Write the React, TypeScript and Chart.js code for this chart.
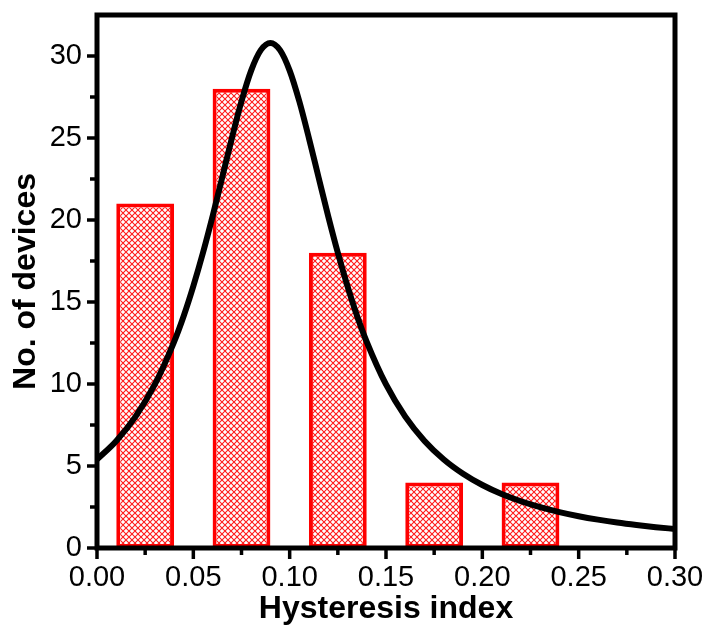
import React, { useEffect, useRef } from 'react';
import { Chart, registerables } from 'chart.js';

Chart.register(...registerables);

// Histogram bins (hysteresis index) and device counts
const binCenters = [0.025, 0.075, 0.125, 0.175, 0.225];
const binCounts = [21, 28, 18, 4, 4];

// Fitted curve, points
const fitX = [0.0, 0.01, 0.02, 0.03, 0.04, 0.045, 0.05, 0.055, 0.06, 0.065, 0.07, 0.075, 0.08, 0.085, 0.09, 0.095, 0.1, 0.105, 0.11, 0.115, 0.12, 0.125, 0.13, 0.135, 0.14, 0.15, 0.16, 0.17, 0.18, 0.19, 0.2, 0.21, 0.22, 0.23, 0.24, 0.25, 0.26, 0.27, 0.28, 0.29, 0.3];
const fitY = [5.4, 6.53, 8.01, 9.97, 12.57, 14.15, 15.97, 18.0, 20.23, 22.6, 24.99, 27.24, 29.11, 30.36, 30.8, 30.36, 29.11, 27.24, 24.99, 22.6, 20.23, 18.0, 15.97, 14.15, 12.57, 9.97, 8.01, 6.53, 5.4, 4.53, 3.84, 3.29, 2.85, 2.49, 2.19, 1.94, 1.73, 1.55, 1.4, 1.27, 1.16];

// Axis ticks
const xTicks = [0, 0.05, 0.1, 0.15, 0.2, 0.25, 0.3];
const xMinorTicks = [0.025, 0.075, 0.125, 0.175, 0.225, 0.275];
const yTicks = [0, 5, 10, 15, 20, 25, 30];
const yMinorTicks = [2.5, 7.5, 12.5, 17.5, 22.5, 27.5];

const X_MIN = 0;
const X_MAX = 0.3;
const Y_MIN = 0;
const Y_MAX = 32.5;

const FONT = '"Liberation Sans", Arial, sans-serif';

function makeHatch(): CanvasPattern | string {
  const s = 6;
  const c = document.createElement('canvas');
  c.width = s;
  c.height = s;
  const g = c.getContext('2d');
  if (!g) return 'rgba(255,0,0,0.4)';
  g.fillStyle = '#ffffff';
  g.fillRect(0, 0, s, s);
  g.strokeStyle = 'rgba(255,0,0,0.9)';
  g.lineWidth = 1.1;
  g.beginPath();
  g.moveTo(0, 0);
  g.lineTo(s, s);
  g.moveTo(s, 0);
  g.lineTo(0, s);
  g.stroke();
  return g.createPattern(c, 'repeat') || 'rgba(255,0,0,0.4)';
}

const framePlugin = {
  id: 'frameTicks',
  afterDatasetsDraw(chart: any) {
    const { ctx, chartArea: a, scales } = chart;
    ctx.save();
    ctx.strokeStyle = '#000';
    ctx.lineCap = 'butt';
    ctx.lineWidth = 3.5;
    const seg = (x1: number, y1: number, x2: number, y2: number) => {
      ctx.beginPath();
      ctx.moveTo(x1, y1);
      ctx.lineTo(x2, y2);
      ctx.stroke();
    };
    xTicks.forEach((v) => {
      const px = scales.x.getPixelForValue(v);
      seg(px, a.bottom, px, a.bottom + 11);
    });
    xMinorTicks.forEach((v) => {
      const px = scales.x.getPixelForValue(v);
      seg(px, a.bottom, px, a.bottom + 7);
    });
    yTicks.forEach((v) => {
      const py = scales.y.getPixelForValue(v);
      seg(a.left, py, a.left - 10, py);
    });
    yMinorTicks.forEach((v) => {
      const py = scales.y.getPixelForValue(v);
      seg(a.left, py, a.left - 7, py);
    });
    ctx.lineWidth = 5;
    ctx.lineJoin = 'miter';
    ctx.strokeRect(a.left, a.top, a.right - a.left, a.bottom - a.top);
    ctx.restore();
  },
};

export default function App() {
  const ref = useRef<HTMLCanvasElement | null>(null);

  useEffect(() => {
    if (!ref.current) return;
    const hatch = makeHatch();
    const barData = binCenters.map((x, i) => ({ x, y: binCounts[i] }));
    const fitData = fitX.map((x, i) => ({ x, y: fitY[i] }));

    const chart = new Chart(ref.current, {
      type: 'bar',
      data: {
        datasets: [
          {
            type: 'line',
            data: fitData,
            borderColor: '#000',
            borderWidth: 6,
            pointRadius: 0,
            cubicInterpolationMode: 'monotone',
            fill: false,
            order: 0,
          } as any,
          {
            type: 'bar',
            data: barData,
            backgroundColor: hatch as any,
            borderColor: '#ff0000',
            borderWidth: 4,
            borderSkipped: false,
            barPercentage: 0.6,
            categoryPercentage: 1,
            order: 1,
          } as any,
        ],
      },
      options: {
        animation: false,
        responsive: true,
        maintainAspectRatio: false,
        layout: { padding: { left: 0, top: 15, right: 35, bottom: 0 } },
        plugins: { legend: { display: false }, tooltip: { enabled: false } },
        scales: {
          x: {
            type: 'linear',
            min: X_MIN,
            max: X_MAX,
            offset: false,
            grid: { display: false, drawTicks: false },
            border: { display: false },
            afterBuildTicks: (s: any) => {
              s.ticks = xTicks.map((v) => ({ value: v }));
            },
            afterFit: (s: any) => {
              s.height = 83;
              s.paddingLeft = 0;
              s.paddingRight = 0;
            },
            ticks: {
              color: '#000',
              font: { family: FONT, size: 29 },
              padding: 13,
              maxRotation: 0,
              autoSkip: false,
              callback: (v: any) => Number(v).toFixed(2),
            },
            title: {
              display: true,
              text: 'Hysteresis index',
              color: '#000',
              font: { family: FONT, size: 32, weight: 'bold' },
              padding: { top: 0, bottom: 3 },
            },
          },
          y: {
            type: 'linear',
            min: Y_MIN,
            max: Y_MAX,
            grid: { display: false, drawTicks: false },
            border: { display: false },
            afterBuildTicks: (s: any) => {
              s.ticks = yTicks.map((v) => ({ value: v }));
            },
            afterFit: (s: any) => {
              s.width = 97;
              s.paddingTop = 0;
              s.paddingBottom = 0;
            },
            ticks: {
              color: '#000',
              font: { family: FONT, size: 29 },
              padding: 15,
              autoSkip: false,
              callback: (v: any) => String(v),
            },
            title: {
              display: true,
              text: 'No. of devices',
              color: '#000',
              font: { family: FONT, size: 32, weight: 'bold' },
              padding: { top: 7, bottom: 0 },
            },
          },
        },
      },
      plugins: [framePlugin],
    });
    return () => chart.destroy();
  }, []);

  return (
    <div style={{ position: 'fixed', left: 0, top: 0, width: 710, height: 631, background: '#fff' }}>
      <canvas ref={ref} />
    </div>
  );
}
